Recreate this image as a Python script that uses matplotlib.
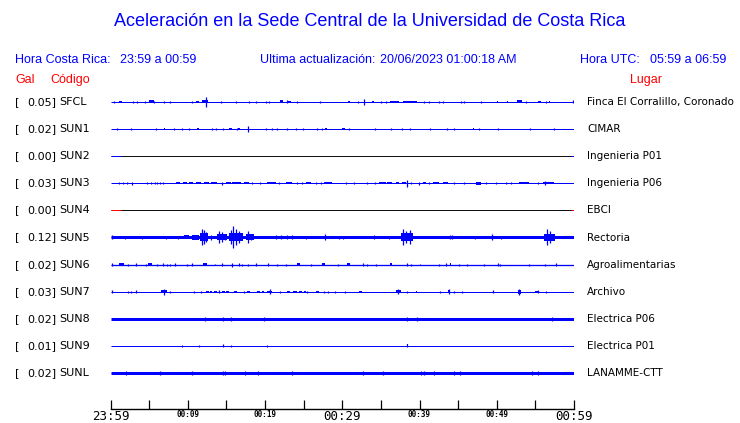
import matplotlib
matplotlib.use("Agg")
import matplotlib.pyplot as plt
import matplotlib.transforms as mtransforms

# --- data -------------------------------------------------------------------
codes = ["SFCL", "SUN1", "SUN2", "SUN3", "SUN4", "SUN5",
         "SUN6", "SUN7", "SUN8", "SUN9", "SUNL"]
peaks = ["0.05", "0.02", "0.00", "0.03", "0.00", "0.12",
         "0.02", "0.03", "0.02", "0.01", "0.02"]
places = ["Finca El Corralillo, Coronado", "CIMAR", "Ingenieria P01",
          "Ingenieria P06", "EBCI", "Rectoria", "Agroalimentarias",
          "Archivo", "Electrica P06", "Electrica P01", "LANAMME-CTT"]
tick_minutes = [0, 10, 20, 30, 40, 50, 60]
tick_labels = ["23:59", "00:09", "00:19", "00:29", "00:39", "00:49", "00:59"]

# spikes: (minute, half amplitude); blocks: (start minute, end minute, half amplitude)
sfcl_spikes = [(0.43, 1), (2.89, 1.3), (3.46, 1), (4.45, 1), (5.62, 1), (6.91, 1),
               (7.69, 1.3), (10.58, 1), (12.40, 5.3), (14.26, 1), (16.20, 1.3),
               (17.93, 1), (18.79, 1), (20.09, 1), (20.52, 1.3), (22.90, 1.5),
               (24.19, 1), (27.13, 0.8), (32.05, 1), (32.83, 3), (34.99, 1),
               (35.64, 1), (40.61, 1), (41.17, 1), (42.55, 1), (42.98, 1),
               (45.36, 1), (45.79, 1), (47.95, 1), (53.78, 1), (56.37, 1), (59.9, 1.5)]
sfcl_blocks = [(1.1, 1.5, 1.3), (5.0, 5.6, 1.5), (11.1, 11.5, 1.3), (11.9, 12.6, 1.5),
               (21.9, 22.3, 1.5), (23.0, 23.4, 1.2), (30.8, 31.0, 1.3), (33.8, 34.1, 1.3),
               (36.2, 37.3, 1.3), (37.9, 39.7, 1.3), (50.0, 50.2, 1.3), (51.3, 51.5, 1.3),
               (52.6, 53.3, 1.5), (55.3, 55.7, 1.3), (56.7, 56.9, 1.3)]

sun1_spikes = [(0.86, 1), (2.68, 1), (5.83, 0.7), (8.21, 1), (9.20, 1), (10.15, 0.7),
               (13.17, 1), (13.69, 1), (14.60, 1), (16.33, 1), (17.84, 2.7), (20.17, 1),
               (20.95, 1), (21.60, 1), (22.90, 1), (23.97, 1), (24.97, 1), (26.78, 0.8),
               (27.34, 1), (30.89, 1), (34.25, 1), (36.37, 1), (37.71, 0.7), (38.79, 1),
               (41.38, 1), (43.50, 1), (44.49, 0.7), (47.73, 1), (50.11, 0.8),
               (54.34, 1), (57.45, 1)]
sun1_blocks = [(6.9, 7.1, 1.2), (11.2, 11.5, 1.2), (15.4, 15.7, 1.3), (16.5, 16.8, 1.3),
               (27.8, 28.0, 1.2), (30.0, 30.3, 1.3), (46.9, 47.1, 1.3)]

sun3_spikes = [(1.08, 1), (1.60, 1), (2.16, 1), (2.81, 1.3), (4.67, 0.8), (5.27, 1),
               (5.75, 0.8), (6.05, 0.8), (6.39, 0.8), (6.78, 1), (14.47, 1.7), (18.36, 1),
               (19.31, 0.8), (21.81, 1), (24.19, 0.8), (24.84, 1), (26.57, 1), (27.21, 1),
               (30.45, 1), (31.53, 0.8), (33.26, 0.8), (34.25, 1), (38.44, 3.3),
               (38.88, 1), (39.96, 1.3), (41.17, 1), (44.49, 1), (45.79, 1), (48.60, 1),
               (49.89, 0.8), (51.19, 1), (51.84, 1), (55.30, 1), (56.28, 2)]
sun3_blocks = [(8.42, 8.94, 1), (9.37, 9.94, 1), (10.15, 10.67, 1), (11.01, 11.66, 1),
               (12.09, 12.74, 1), (12.96, 13.82, 1.2), (14.90, 15.55, 1.2),
               (15.77, 16.85, 1.2), (17.28, 17.93, 1), (20.30, 21.38, 1),
               (22.68, 23.54, 1), (25.27, 25.92, 1), (27.65, 28.72, 1),
               (34.77, 35.64, 1), (35.85, 36.50, 1), (36.93, 37.36, 1),
               (37.79, 38.23, 1), (40.48, 40.82, 1), (41.69, 42.55, 1),
               (42.98, 43.63, 1), (47.30, 47.95, 1.3), (52.92, 54.21, 1),
               (55.94, 57.45, 1.2)]

sun5_spikes = [(0.22, 2), (1.86, 1.5), (4.10, 1.5), (7.13, 1.5), (8.77, 1.5),
               (11.85, 8), (12.1, 7), (12.4, 5), (13.0, 2.5), (14.05, 6), (14.4, 5),
               (14.8, 3), (15.6, 7), (15.9, 11), (16.3, 8), (16.6, 6), (17.8, 6),
               (18.2, 3), (21.38, 2), (22.03, 2), (22.90, 2), (23.54, 2), (25.27, 1.5),
               (27.78, 3), (29.59, 1.5), (30.11, 1.5), (34.13, 2), (36.07, 1.5),
               (37.8, 8), (38.2, 6), (38.8, 7), (43.9, 2), (44.2, 2), (47.21, 1.5),
               (49.37, 3), (50.54, 1.5), (56.5, 8), (56.9, 6), (57.3, 3)]
sun5_blocks = [(9.5, 10.2, 2), (10.5, 11.4, 2.5), (11.6, 12.6, 4), (13.8, 15.1, 3),
               (15.3, 17.1, 4), (17.5, 18.6, 3), (37.6, 39.1, 4), (56.1, 57.6, 3.5)]

sun6_spikes = [(0.13, 1.3), (2.29, 1), (3.24, 1.3), (4.62, 1), (6.05, 1), (6.78, 1.3),
               (7.34, 1), (7.65, 1), (8.34, 1.3), (9.85, 1), (10.58, 1.3), (13.52, 0.8),
               (14.47, 1.3), (15.77, 2), (16.63, 1.3), (17.07, 1), (17.84, 1),
               (18.79, 1.3), (20.43, 1.3), (21.60, 1), (22.77, 1), (25.92, 1),
               (29.46, 1), (32.70, 1.3), (33.26, 1), (34.42, 1), (38.44, 1.3),
               (38.88, 1), (40.09, 0.8), (42.46, 1), (43.41, 1.3), (45.06, 1),
               (46.09, 1), (48.30, 1), (50.11, 1.3), (50.41, 1), (54.13, 1),
               (56.28, 1), (57.66, 1.3)]
sun6_blocks = [(1.08, 1.73, 1.3), (4.88, 5.31, 1.3), (12.01, 12.53, 1.3),
               (24.19, 24.54, 1.3), (27.34, 27.78, 1.3), (30.65, 30.95, 1.3),
               (36.15, 36.4, 1.3), (43.9, 44.1, 1.3)]

sun7_spikes = [(0.13, 1.3), (2.29, 1), (2.59, 1), (3.33, 1.3), (6.91, 3), (7.65, 1),
               (10.80, 0.8), (11.66, 0.8), (14.0, 1.5), (17.28, 1), (20.65, 2.5),
               (21.90, 0.8), (25.49, 1), (27.65, 1), (28.21, 0.8), (29.07, 0.8),
               (30.37, 0.8), (37.28, 2.5), (38.44, 1), (42.68, 0.8), (43.84, 2.5),
               (44.49, 1), (45.49, 1), (49.46, 1.3), (52.92, 3), (55.30, 1.3), (56.37, 0.8)]
sun7_blocks = [(6.48, 7.34, 1.3), (12.31, 12.7, 1), (12.9, 13.17, 1),
               (13.39, 13.8, 1), (14.47, 14.8, 1), (15.0, 15.34, 1), (15.98, 16.42, 1),
               (17.71, 18.0, 1), (19.01, 19.3, 1), (19.6, 19.87, 1), (20.30, 20.95, 1.2),
               (22.90, 23.3, 1), (23.6, 24.1, 1), (24.4, 24.8, 1), (25.0, 25.27, 1),
               (26.57, 27.0, 1), (32.18, 32.61, 1), (36.93, 37.58, 1.3),
               (39.53, 39.74, 1), (43.7, 44.0, 1.3), (52.7, 53.1, 1.8), (54.9, 55.5, 1)]

sun8_spikes = [(12.23, 1.8), (14.56, 2.3), (15.64, 2), (19.87, 2), (38.44, 2.3),
               (39.66, 2), (57.10, 2)]

sun9_spikes = [(9.29, 1), (11.45, 1), (14.56, 1.5), (15.60, 1), (20.26, 1), (38.44, 1.5)]
sun9_blocks = [(38.35, 38.55, 1.5)]

sunl_spikes = [(2.07, 2.3), (6.39, 2.3), (10.58, 2.3), (14.56, 2.3), (14.77, 2.3),
               (17.41, 2.3), (19.09, 2.3), (23.45, 2.3), (32.70, 2.3), (35.29, 2.3),
               (40.17, 2.3), (40.61, 2.3), (41.90, 2.3), (44.49, 2.3), (45.23, 2.3),
               (54.56, 2.3), (55.30, 2.3)]

spikes = [sfcl_spikes, sun1_spikes, [], sun3_spikes, [], sun5_spikes,
          sun6_spikes, sun7_spikes, sun8_spikes, sun9_spikes, sunl_spikes]
blocks = [sfcl_blocks, sun1_blocks, [], sun3_blocks, [], sun5_blocks,
          sun6_blocks, sun7_blocks, [], sun9_blocks, []]

# --- styling -----------------------------------------------------------------
W, H = 740, 423
BLUE = "#0000ff"
RED = "#ff0000"
trace_colors = [BLUE] * 11
trace_colors[4] = RED
# flat (zero) channels: black body, coloured ends
flat_rows = [2, 4]
base_px = [1, 1, 1, 1, 1, 3, 1.3, 1, 3, 1, 3]   # baseline thickness in px
ROW = 27.1                                        # px between traces
GAIN = 1.0 / ROW


def px(x, y):
    return x / W, 1 - y / H


fig = plt.figure(figsize=(W / 100, H / 100), dpi=100)
fig.patch.set_facecolor("white")

ax_left, ax_right, ax_top, ax_bot = 110.5, 574, 88, 409.3
ax = fig.add_axes([ax_left / W, (H - ax_bot) / H,
                   (ax_right - ax_left) / W, (ax_bot - ax_top) / H])
ax.set_xlim(0, 60)
ax.set_ylim(-10 - (ax_bot - 373) / ROW, (102 - ax_top) / ROW)

for i in range(len(codes)):
    y = -i
    c = trace_colors[i]
    lw = base_px[i] * 0.72
    if i in flat_rows:
        ax.hlines(y, 0, 60, color="#101010", lw=lw)
        ax.hlines(y, 0, 1.3, color=c, lw=lw)
        ax.hlines(y, 59.6, 60, color=c, lw=lw)
        continue
    ax.hlines(y, 0, 60, color=c, lw=lw)
    for t0, t1, a in blocks[i]:
        ax.bar(t0, 2 * a * GAIN, width=t1 - t0, bottom=y - a * GAIN,
               align="edge", color=c, linewidth=0)
    if spikes[i]:
        ts = [s[0] for s in spikes[i]]
        amps = [s[1] * GAIN for s in spikes[i]]
        ax.vlines(ts, [y - a for a in amps], [y + a for a in amps], color=c, lw=0.9)

# time axis
for side in ["top", "left", "right"]:
    ax.spines[side].set_visible(False)
ax.spines["bottom"].set_linewidth(1.0)
ax.set_yticks([])
ax.set_xticks(tick_minutes)
ax.set_xticks([m + 5 for m in tick_minutes[:-1]], minor=True)
ax.tick_params(axis="x", which="both", direction="in", length=6.5, width=0.9,
               pad=0.5, color="black")
ax.set_xticklabels(tick_labels, family="DejaVu Sans Mono")
for k, lab in enumerate(ax.get_xticklabels()):
    if tick_minutes[k] in (0, 30, 60):
        lab.set_fontsize(9)
    else:
        lab.set_fontsize(5.5)
        lab.set_fontweight("bold")

# station labels
row_tr = mtransforms.blended_transform_factory(fig.transFigure, ax.transData)
for i in range(len(codes)):
    y = -i
    ax.text(15 / W, y, "[", transform=row_tr, ha="left", va="center",
            fontsize=8, family="DejaVu Sans")
    ax.text(56 / W, y, peaks[i] + "]", transform=row_tr, ha="right", va="center",
            fontsize=8, family="DejaVu Sans")
    ax.text(59 / W, y, codes[i], transform=row_tr, ha="left", va="center",
            fontsize=8, family="DejaVu Sans")
    ax.text(587 / W, y, places[i], transform=row_tr, ha="left", va="center",
            fontsize=7.5, family="DejaVu Sans")

# header
hdr = dict(family="Liberation Sans", va="center")
fig.text(*px(370, 22), "Aceleración en la Sede Central de la Universidad de Costa Rica",
         ha="center", fontsize=13, color=BLUE, **hdr)
fig.text(*px(15, 60), "Hora Costa Rica:", fontsize=9, color=BLUE, **hdr)
fig.text(*px(120, 60), "23:59 a 00:59", fontsize=9, color=BLUE, **hdr)
fig.text(*px(260, 60), "Ultima actualización:", fontsize=9, color=BLUE, **hdr)
fig.text(*px(380, 60), "20/06/2023 01:00:18 AM", fontsize=9, color=BLUE, **hdr)
fig.text(*px(580, 60), "Hora UTC:", fontsize=9, color=BLUE, **hdr)
fig.text(*px(650, 60), "05:59 a 06:59", fontsize=9, color=BLUE, **hdr)
fig.text(*px(15, 80), "Gal", fontsize=9, color=RED, **hdr)
fig.text(*px(50, 80), "Código", fontsize=9, color=RED, **hdr)
fig.text(*px(630, 80), "Lugar", fontsize=9, color=RED, **hdr)

fig.savefig("out.png", dpi=100, facecolor="white")
